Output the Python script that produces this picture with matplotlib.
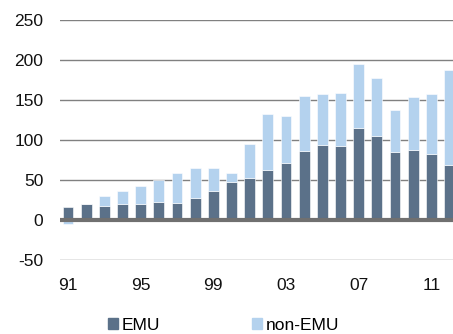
import matplotlib
matplotlib.use("Agg")
import matplotlib.pyplot as plt
import numpy as np
from matplotlib.patches import Patch

plt.rcParams['font.family'] = ['Liberation Sans', 'DejaVu Sans']

years = list(range(1991, 2013))
emu = [16, 20, 18, 20, 20, 22, 21, 28, 36, 47, 53, 63, 71, 86, 94, 93, 115, 105, 85, 87, 82, 69]
total = [None, 20.5, 30, 36, 43, 50, 59, 65, 65, 59, 95, 132, 130, 155, 158, 159, 195, 178, 138, 154, 158, 188]
non_emu = [-5] + [t - e for t, e in zip(total[1:], emu[1:])]
xtick_years = [1991, 1995, 1999, 2003, 2007, 2011]
xtick_labels = ['91', '95', '99', '03', '07', '11']
yticks = [-50, 0, 50, 100, 150, 200, 250]

c_emu = '#5B7189'
c_non = '#B4D2EE'

fig = plt.figure(figsize=(4.53, 3.34), dpi=100)
ax = fig.add_axes([60/453, 1-260/334, 1-60/453, 240/334])

x = np.array(years)
emu_a = np.array(emu, dtype=float)
non_a = np.array(non_emu, dtype=float)
bottoms = np.where(non_a >= 0, emu_a, 0)
ax.bar(x, emu_a, width=0.6, color=c_emu, edgecolor='white', linewidth=0.4, zorder=2)
ax.bar(x, non_a, width=0.6, bottom=bottoms, color=c_non, edgecolor='white', linewidth=0.4, zorder=2)

for yv in yticks:
    if yv != 0:
        ax.axhline(yv, color='#808080', linewidth=1.0, zorder=1)
ax.axhline(0, color='#707070', linewidth=3.0, zorder=3)

ax.set_xlim(1990.56, 2012.19)
ax.set_ylim(-50, 250)
ax.set_yticks(yticks)
ax.set_yticklabels([str(v) for v in yticks])
ax.set_xticks(xtick_years)
ax.set_xticklabels(xtick_labels)
ax.tick_params(axis='both', length=0, labelsize=12.5, colors='#111111')
ax.tick_params(axis='y', pad=12)
ax.tick_params(axis='x', pad=13)
for s in ax.spines.values():
    s.set_visible(False)

handles = [Patch(color=c_emu, label='EMU'), Patch(color=c_non, label='non-EMU')]
fig.legend(handles=handles, loc='center', bbox_to_anchor=(223.5/453, 1-325/334),
           ncol=2, frameon=False, fontsize=12.5, handlelength=0.6, handleheight=0.6,
           handletextpad=0.2, columnspacing=5.3, borderpad=0, borderaxespad=0)

fig.savefig('out.png', dpi=100)
